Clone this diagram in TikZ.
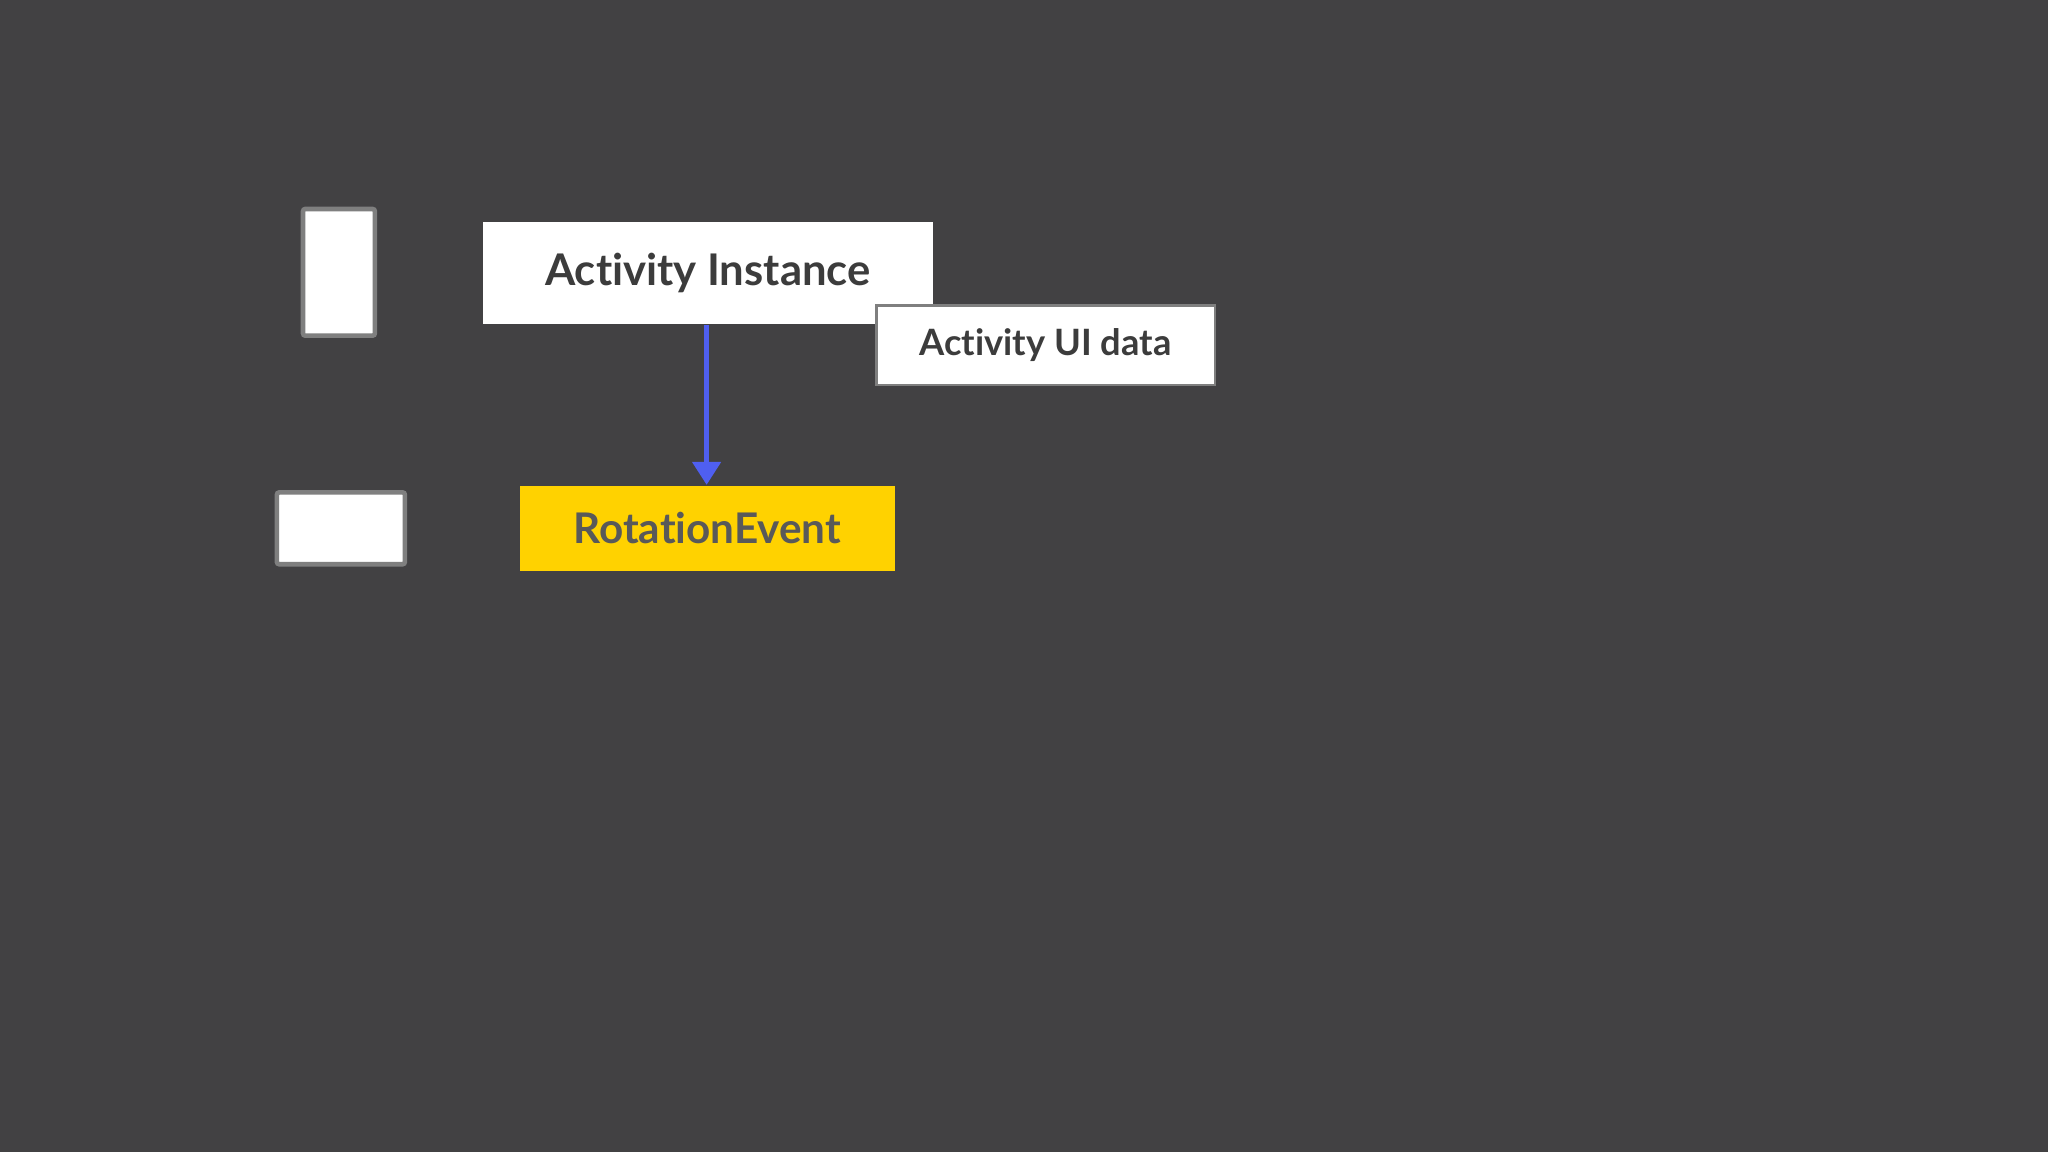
\documentclass[tikz,border=0pt]{standalone}
\usepackage{fontspec}
\setmainfont[Ligatures=NoCommon]{Lato}
\usetikzlibrary{arrows.meta}
\definecolor{bg}{HTML}{424143}
\definecolor{txt}{HTML}{3C3C3C}
\definecolor{ylw}{HTML}{FFD200}
\definecolor{blu}{HTML}{4F5FF0}
\definecolor{frame}{HTML}{7F7F7F}
\tikzset{
  phone/.style={draw=frame,line width=1pt,fill=white,rounded corners=0.5pt},
  box/.style={fill=white,inner sep=0pt,font=\bfseries,text=txt},
}
\begin{document}
\begin{tikzpicture}[x=0.01cm,y=-0.01cm]
\fill[bg] (0,0) rectangle (1568,882);
\draw[phone] (232,160) rectangle (287,257);
\draw[phone] (212,377) rectangle (310,432);
\node[box,minimum width=344*0.01cm,minimum height=78*0.01cm,font=\bfseries\fontsize{9.5}{11}\selectfont] (ai) at (542,209) {Activity Instance};
\node[box,draw=frame,line width=0.5pt,minimum width=259*0.01cm,minimum height=61*0.01cm,font=\bfseries\fontsize{7.9}{9}\selectfont] (ui) at (800.5,264.5) {Activity UI data};
\node[box,fill=ylw,text=txt!85!white,minimum width=287*0.01cm,minimum height=65*0.01cm,font=\bfseries\fontsize{9.2}{10}\selectfont] (re) at (541.5,404.5) {RotationEvent};
\draw[blu,line width=1.2pt,-{Triangle[length=5pt,width=6pt]}] (ai.south -| 541,0) -- (re.north -| 541,0);
\end{tikzpicture}
\end{document}
